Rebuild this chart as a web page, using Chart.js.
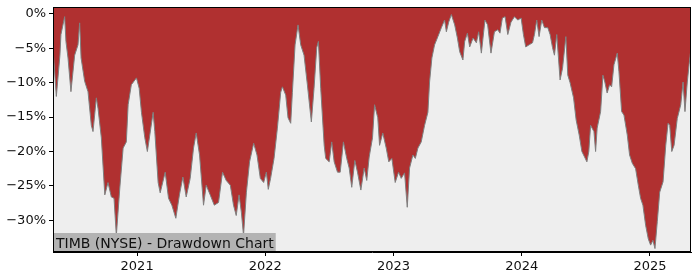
<!DOCTYPE html>
<html>
<head>
<meta charset="utf-8">
<script src="https://cdn.jsdelivr.net/npm/chart.js@4/dist/chart.umd.min.js"></script>
<style>
  html, body { margin: 0; padding: 0; background: #fff; }
  #wrap { width: 700px; height: 280px; }
</style>
</head>
<body>
<div id="wrap"><canvas id="myChart"></canvas></div>
<script>
// dates as decimal years, drawdown in percent
const years = [
  2020.344, 2020.370, 2020.398, 2020.406, 2020.435, 2020.445, 2020.461, 2020.484, 2020.513, 2020.539,
  2020.552, 2020.563, 2020.591, 2020.617, 2020.643, 2020.656, 2020.682, 2020.695, 2020.721, 2020.748,
  2020.773, 2020.799, 2020.820, 2020.838, 2020.865, 2020.891, 2020.916, 2020.930, 2020.955, 2020.995,
  2021.016, 2021.034, 2021.060, 2021.080, 2021.099, 2021.125, 2021.138, 2021.164, 2021.180, 2021.219,
  2021.245, 2021.271, 2021.302, 2021.330, 2021.357, 2021.383, 2021.414, 2021.440, 2021.461, 2021.487,
  2021.518, 2021.539, 2021.570, 2021.602, 2021.635, 2021.666, 2021.695, 2021.727, 2021.752, 2021.773,
  2021.795, 2021.813, 2021.830, 2021.852, 2021.877, 2021.909, 2021.935, 2021.961, 2021.987, 2022.008,
  2022.023, 2022.041, 2022.068, 2022.094, 2022.120, 2022.133, 2022.159, 2022.177, 2022.198, 2022.211,
  2022.232, 2022.255, 2022.276, 2022.302, 2022.328, 2022.359, 2022.380, 2022.401, 2022.414, 2022.432,
  2022.459, 2022.471, 2022.498, 2022.518, 2022.537, 2022.563, 2022.584, 2022.609, 2022.635, 2022.654,
  2022.674, 2022.698, 2022.719, 2022.745, 2022.771, 2022.791, 2022.810, 2022.836, 2022.852, 2022.877,
  2022.891, 2022.916, 2022.943, 2022.963, 2022.987, 2023.013, 2023.039, 2023.060, 2023.086, 2023.107,
  2023.125, 2023.151, 2023.170, 2023.190, 2023.216, 2023.242, 2023.268, 2023.281, 2023.299, 2023.320,
  2023.346, 2023.373, 2023.398, 2023.412, 2023.430, 2023.451, 2023.477, 2023.498, 2023.516, 2023.541,
  2023.555, 2023.576, 2023.594, 2023.620, 2023.646, 2023.664, 2023.685, 2023.713, 2023.734, 2023.760,
  2023.787, 2023.813, 2023.830, 2023.849, 2023.870, 2023.891, 2023.916, 2023.943, 2023.969, 2023.995,
  2024.013, 2024.031, 2024.057, 2024.084, 2024.099, 2024.117, 2024.135, 2024.156, 2024.177, 2024.203,
  2024.221, 2024.240, 2024.255, 2024.273, 2024.299, 2024.318, 2024.344, 2024.359, 2024.377, 2024.404,
  2024.424, 2024.448, 2024.469, 2024.490, 2024.508, 2024.523, 2024.537, 2024.563, 2024.576, 2024.588,
  2024.615, 2024.633, 2024.648, 2024.666, 2024.685, 2024.701, 2024.719, 2024.745, 2024.758, 2024.779,
  2024.797, 2024.823, 2024.841, 2024.862, 2024.888, 2024.909, 2024.927, 2024.945, 2024.966, 2024.987,
  2025.005, 2025.023, 2025.039, 2025.057, 2025.076, 2025.102, 2025.123, 2025.141, 2025.154, 2025.170,
  2025.188, 2025.213, 2025.240, 2025.258, 2025.273, 2025.291, 2025.305, 2025.320
];
const drawdown = [
  -5, -12, -6, -3, -0.4, -4, -6.4, -11.3, -6, -4.5,
  -1.3, -6.4, -9.8, -11.3, -16.2, -17.1, -12.2, -13.7, -18, -26.3,
  -24.5, -26.6, -26.8, -32.2, -25.3, -19.5, -18.6, -13.2, -10.3, -9.3,
  -10.8, -14.3, -18, -20, -17.6, -14.3, -17.1, -24.5, -26, -23,
  -26.8, -27.8, -29.7, -26.3, -23.7, -26.6, -23.9, -19.5, -17.3, -20.5,
  -27.8, -24.9, -26.3, -27.8, -27.4, -23, -24.2, -24.9, -27.8, -29.3,
  -26.3, -28.8, -32.2, -26, -21.5, -18.8, -20.5, -23.9, -24.5, -23,
  -25.5, -23.9, -21, -16.6, -11.4, -10.6, -11.8, -15.1, -15.9, -11.4,
  -4.5, -1.6, -4.5, -6, -10.3, -15.7, -10.8, -4.9, -4, -10.8,
  -19.1, -21, -21.5, -18.6, -21.5, -23, -23, -18.6, -21, -22.4,
  -25.2, -21.3, -23, -25.6, -22.4, -24.2, -20.8, -18, -13.2, -15.1,
  -19.1, -17.3, -19.5, -21.5, -21, -24.5, -23, -23.9, -23.1, -28.1,
  -22.4, -20.5, -21, -19.5, -18.6, -16.2, -14.3, -9.9, -6.4, -4.5,
  -3.3, -2, -0.9, -2.6, -1.2, -0.1, -1.6, -3.5, -5.5, -6.7,
  -4, -2.8, -4.8, -3.5, -4.2, -2.6, -5.7, -0.9, -1.6, -5.7,
  -2.6, -2.3, -2.8, -0.6, -0.4, -3, -1.2, -0.4, -0.9, -0.6,
  -3, -4.8, -4.5, -4.2, -3, -0.9, -3.3, -0.9, -2, -2,
  -3, -4.9, -6, -3, -9.6, -7.9, -3.3, -8.9, -10, -12.2,
  -15.4, -17.6, -20, -20.8, -21.5, -20, -16.2, -17.1, -20, -16.6,
  -14.2, -8.9, -9.9, -11.5, -10.3, -10.6, -7.4, -5.7, -8.4, -14.2,
  -14.7, -17.6, -20.5, -21.7, -22.5, -24.9, -26.8, -27.8, -30.7, -32.7,
  -33.6, -32.9, -34.1, -30.2, -25.9, -24.4, -19.1, -15.9, -16.2, -20,
  -19.1, -15.2, -13.2, -9.9, -14.2, -9.9, -7.4, -5
];
const xTicks = [2021, 2022, 2023, 2024, 2025];
const yTicks = [0, -5, -10, -15, -20, -25, -30];
const title = 'TIMB (NYSE) - Drawdown Chart';

const points = years.map((y, i) => ({ x: y, y: drawdown[i] }));

// grey plot background, frame and label box
const framePlugin = {
  id: 'frame',
  beforeDatasetsDraw(chart) {
    const { ctx, chartArea: a } = chart;
    ctx.save();
    ctx.fillStyle = '#eeeeee';
    ctx.fillRect(a.left, a.top, a.right - a.left, a.bottom - a.top);
    ctx.restore();
  },
  afterDatasetsDraw(chart) {
    const { ctx, chartArea: a } = chart;
    ctx.save();
    ctx.font = '14px "DejaVu Sans"';
    const w = ctx.measureText(title).width;
    ctx.fillStyle = '#b3b3b3';
    ctx.fillRect(a.left, a.bottom - 19, w + 5, 19);
    ctx.fillStyle = '#111';
    ctx.textBaseline = 'alphabetic';
    ctx.fillText(title, a.left + 3, a.bottom - 4);
    ctx.strokeStyle = '#000';
    ctx.lineWidth = 1;
    ctx.strokeRect(a.left + 0.5, a.top + 0.5, a.right - a.left - 1, a.bottom - a.top - 1);
    ctx.restore();
  }
};

const ctx = document.getElementById('myChart');
const myChart = new Chart(ctx, {
  type: 'line',
  data: {
    datasets: [{
      data: points,
      borderColor: '#7f7f7f',
      borderWidth: 1,
      backgroundColor: '#b03030',
      fill: 'end',
      pointRadius: 0,
      tension: 0
    }]
  },
  options: {
    responsive: true,
    maintainAspectRatio: false,
    animation: false,
    layout: { padding: { top: 7, right: 9, left: 0, bottom: 0 } },
    plugins: { legend: { display: false }, tooltip: { enabled: false } },
    scales: {
      x: {
        type: 'linear',
        min: 2020.344,
        max: 2025.32,
        afterBuildTicks: (s) => { s.ticks = xTicks.map(v => ({ value: v })); },
        afterFit: (s) => { s.height = 28; s.paddingLeft = 0; s.paddingRight = 0; },
        grid: { drawOnChartArea: false, drawTicks: true, tickLength: 4, color: '#000' },
        border: { display: true, color: '#000' },
        ticks: {
          color: '#111',
          font: { family: 'DejaVu Sans', size: 13 },
          padding: 3,
          maxRotation: 0,
          callback: (v) => String(v)
        }
      },
      y: {
        min: -34.6,
        max: 1,
        afterBuildTicks: (s) => { s.ticks = yTicks.map(v => ({ value: v })); },
        afterFit: (s) => { s.width = 53; s.paddingTop = 0; s.paddingBottom = 0; },
        grid: { drawOnChartArea: false, drawTicks: true, tickLength: 4, color: '#000' },
        border: { display: true, color: '#000' },
        ticks: {
          color: '#111',
          font: { family: 'DejaVu Sans', size: 13 },
          padding: 3,
          callback: (v) => (v < 0 ? '\u2212' : '') + Math.abs(v) + '%'
        }
      }
    }
  },
  plugins: [framePlugin]
});
</script>
</body>
</html>
